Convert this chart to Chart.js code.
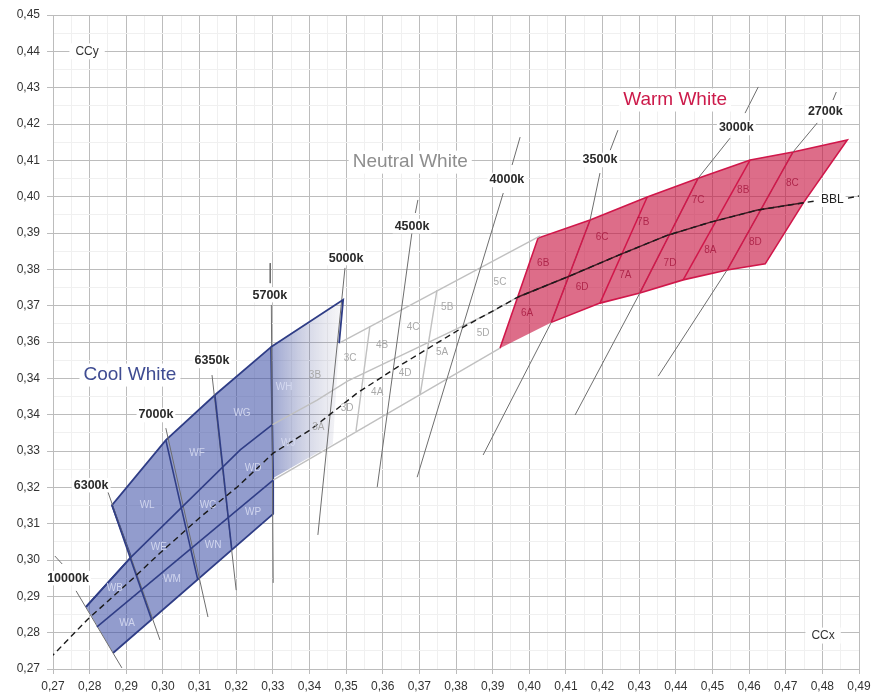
<!DOCTYPE html>
<html><head><meta charset="utf-8">
<script src="https://cdn.jsdelivr.net/npm/chart.js@4.4.1/dist/chart.umd.min.js"></script>
<style>html,body{margin:0;padding:0;background:#fff;} canvas{display:block;}</style>
</head><body>
<canvas id="c" width="877" height="698"></canvas>
<script>
// ---------- axis labels ----------
const xTickLabels = ['0,27','0,28','0,29','0,30','0,31','0,32','0,33','0,34','0,35','0,36','0,37','0,38','0,39','0,40','0,41','0,42','0,43','0,44','0,45','0,46','0,47','0,48','0,49'];
const yTickLabels = ['0,27','0,28','0,29','0,30','0,31','0,32','0,33','0,34','0,34','0,36','0,37','0,38','0,39','0,40','0,41','0,42','0,43','0,44','0,45'];

// ---------- black body locus (x, y chromaticity) ----------
const bblPoints = [[0.2692,0.2730],[0.2793,0.2835],[0.2919,0.2950],[0.2992,0.3019],[0.3102,0.3118],[0.3203,0.3201],[0.3301,0.3294],[0.3402,0.3358],[0.3531,0.3460],[0.3640,0.3531],[0.3820,0.3641],[0.3970,0.3724],[0.4104,0.3779],[0.4244,0.3839],[0.4378,0.3894],[0.4495,0.3930],[0.4623,0.3963],[0.4748,0.3983],[0.4781,0.3988],null,[0.4870,0.3996],[0.4900,0.4002]];

// ---------- Cool White bins ----------
const coolPolygon = [[0.2790,0.2871],[0.2913,0.3008],[0.2861,0.3151],[0.3008,0.3330],[0.3142,0.3454],[0.3295,0.3586],[0.3301,0.3226],[0.3301,0.3127],[0.2864,0.2744]];
const coolFade = [[0.3295,0.3586],[0.3492,0.3716],[0.3481,0.3597],[0.3464,0.3319],[0.3301,0.3226]];
const coolTopExt = [[0.3295,0.3586],[0.3492,0.3716],[0.3481,0.3597]];
const coolMid = [[0.2790,0.2871],[0.2913,0.3008],[0.3211,0.3303],[0.3298,0.3372]];
const coolLow = [[0.2820,0.2816],[0.3301,0.3220]];
const coolDiv6300 = [[0.2861,0.3151],[0.2969,0.2836]];
const coolDiv7000 = [[0.3008,0.3330],[0.3095,0.2946]];
const coolDiv6350 = [[0.3142,0.3454],[0.3188,0.3028]];

// ---------- Neutral White bins ----------
const neutralTop = [[0.3481,0.3597],[0.4030,0.3892]];
const neutralMid = [[0.3298,0.3372],[0.3421,0.3440],[0.3505,0.3493],[0.3675,0.3575],[0.3893,0.3680],[0.3969,0.3724]];
const neutralBottom = [[0.3301,0.3220],[0.3920,0.3583]];
const neutralDiv1 = [[0.3565,0.3644],[0.3527,0.3355]];
const neutralDiv2 = [[0.3748,0.3743],[0.3702,0.3454]];

// ---------- Warm White bins ----------
const warmPolygon = [[0.3920,0.3583],[0.4024,0.3886],[0.4166,0.3936],[0.4322,0.3999],[0.4461,0.4051],[0.4603,0.4101],[0.4720,0.4123],[0.4868,0.4156],[0.4748,0.3983],[0.4644,0.3815],[0.4540,0.3798],[0.4420,0.3771],[0.4302,0.3735],[0.4193,0.3707],[0.4060,0.3654]];
const warmMid = [[0.3969,0.3724],[0.4104,0.3779],[0.4244,0.3839],[0.4378,0.3894],[0.4495,0.3930],[0.4623,0.3963],[0.4748,0.3983]];
const warmDiv1 = [[0.4166,0.3936],[0.4060,0.3654]];
const warmDiv2 = [[0.4322,0.3999],[0.4193,0.3707]];
const warmDiv3 = [[0.4461,0.4051],[0.4302,0.3735]];
const warmDiv4 = [[0.4603,0.4101],[0.4420,0.3771]];
const warmDiv5 = [[0.4720,0.4123],[0.4540,0.3798]];

// ---------- isotherm (CCT) lines ----------
const iso10000 = [[0.2705,0.3011],[0.2725,0.2989],null,[0.2763,0.2915],[0.2888,0.2703]];
const iso6300 = [[0.2850,0.3187],[0.2992,0.2780]];
const iso7000 = [[0.3008,0.3363],[0.3123,0.2843]];
const iso6350 = [[0.3134,0.3509],[0.3200,0.2917]];
const iso5700 = [[0.3293,0.3817],[0.3293,0.3762],null,[0.3296,0.3702],[0.3301,0.2937]];
const iso5000 = [[0.3497,0.3804],[0.3423,0.3069]];
const iso4500 = [[0.3696,0.3991],[0.3689,0.3955],null,[0.3680,0.3903],[0.3585,0.3201]];
const iso4000 = [[0.3975,0.4164],[0.3953,0.4087],null,[0.3929,0.4010],[0.3694,0.3228]];
const iso3500 = [[0.4242,0.4183],[0.4221,0.4128],null,[0.4193,0.4065],[0.4166,0.3936],[0.4060,0.3654],[0.3874,0.3289]];
const iso3000 = [[0.4625,0.4302],[0.4589,0.4230],null,[0.4548,0.4161],[0.4461,0.4051],[0.4302,0.3735],[0.4125,0.3399]];
const iso2700 = [[0.4838,0.4288],[0.4829,0.4266],null,[0.4786,0.4203],[0.4720,0.4123],[0.4540,0.3798],[0.4352,0.3506]];

// ---------- text ----------
const isoLabelNames = ['10000k','6300k','7000k','6350k','5700k','5000k','4500k','4000k','3500k','3000k','2700k'];
const isoLabelX = [0.2741,0.2804,0.2981,0.3134,0.3292,0.3500,0.3680,0.3939,0.4193,0.4565,0.4808];
const isoLabelY = [0.2950,0.3206,0.3399,0.3548,0.3729,0.3831,0.3919,0.4046,0.4101,0.4189,0.4233];

const coolCellNames = ['WL','WF','WG','WH','WE','WC','WD','WJ','WB','WM','WN','WP','WA'];
const coolCellX = [0.2957,0.3093,0.3216,0.3331,0.2989,0.3123,0.3246,0.3342,0.2869,0.3025,0.3137,0.3246,0.2902];
const coolCellY = [0.3151,0.3295,0.3405,0.3476,0.3036,0.3151,0.3253,0.3322,0.2923,0.2948,0.3041,0.3132,0.2827];

const neutralCellNames = ['3B','3A','3C','3D','4B','4A','4C','4D','5B','5A','5C','5D'];
const neutralCellX = [0.3415,0.3424,0.3511,0.3503,0.3598,0.3585,0.3683,0.3661,0.3776,0.3762,0.3920,0.3874];
const neutralCellY = [0.3509,0.3366,0.3556,0.3418,0.3592,0.3462,0.3641,0.3515,0.3696,0.3572,0.3765,0.3625];

const warmCellNames = ['6B','6C','7B','7C','8B','8C','6A','6D','7A','7D','8A','8D'];
const warmCellX = [0.4038,0.4199,0.4311,0.4461,0.4584,0.4718,0.3994,0.4144,0.4262,0.4384,0.4494,0.4617];
const warmCellY = [0.3817,0.3889,0.3930,0.3991,0.4018,0.4038,0.3680,0.3751,0.3784,0.3817,0.3853,0.3875];

const regionNames = ['Cool White','Neutral White','Warm White'];
const regionX = [0.2910,0.3675,0.4398];
const regionY = [0.3509,0.4095,0.4266];

const axisTitleNames = ['CCy','CCx'];
const axisTitleX = [0.2793,0.4802];
const axisTitleY = [0.4400,0.2792];

const bblLabel = 'BBL';
const bblLabelX = 0.4827, bblLabelY = 0.3991;

// ---------- styling ----------
const NAVY = '#2f3d86', COOL_FILL = 'rgba(60,78,165,0.56)';
const RED = '#d0174a', WARM_FILL = 'rgba(200,20,65,0.62)';
const NEUTRAL = '#c0c0c0', ISO = '#6e6e6e';
const FONT = '"Liberation Sans", Arial, Helvetica, sans-serif';

const toXY = arr => arr.map(p => p ? {x:p[0], y:p[1]} : {x:null, y:null});
function lineDs(points, color, width, order, extra) {
  return Object.assign({type:'line', data: toXY(points), borderColor: color, backgroundColor: 'transparent', borderWidth: width,
    pointRadius: 0, pointHoverRadius: 0, fill: false, tension: 0, order, spanGaps: false}, extra || {});
}

const fadeGradient = (ctx) => {
  const chart = ctx.chart; const area = chart.chartArea;
  if (!area) return COOL_FILL;
  const x0 = chart.scales.x.getPixelForValue(coolFade[0][0]);
  const x1 = chart.scales.x.getPixelForValue(coolFade[1][0]);
  const g = chart.ctx.createLinearGradient(x0, 0, x1 + 2, 0);
  g.addColorStop(0, 'rgba(60,78,165,0.50)');
  g.addColorStop(0.55, 'rgba(90,100,160,0.22)');
  g.addColorStop(1, 'rgba(120,120,150,0.04)');
  return g;
};

const datasets = [
  lineDs(coolPolygon, NAVY, 1.8, 20, {fill: 'shape', backgroundColor: COOL_FILL}),
  lineDs(coolFade, 'transparent', 0, 21, {fill: 'shape', backgroundColor: fadeGradient}),
  lineDs(warmPolygon, RED, 1.6, 20, {fill: 'shape', backgroundColor: WARM_FILL}),
  lineDs(neutralTop, NEUTRAL, 1.4, 12),
  lineDs(neutralMid, NEUTRAL, 1.4, 12),
  lineDs(neutralBottom, NEUTRAL, 1.4, 12),
  lineDs(neutralDiv1, NEUTRAL, 1.4, 12),
  lineDs(neutralDiv2, NEUTRAL, 1.4, 12),
  lineDs(iso10000, ISO, 1, 10),
  lineDs(iso6300, ISO, 1, 10),
  lineDs(iso7000, ISO, 1, 10),
  lineDs(iso6350, ISO, 1, 10),
  lineDs(iso5700, ISO, 1, 10),
  lineDs(iso5000, ISO, 1, 10),
  lineDs(iso4500, ISO, 1, 10),
  lineDs(iso4000, ISO, 1, 10),
  lineDs(iso3500, ISO, 1, 10),
  lineDs(iso3000, ISO, 1, 10),
  lineDs(iso2700, ISO, 1, 10),
  lineDs(coolTopExt, NAVY, 1.8, 6),
  lineDs(coolMid, NAVY, 1.6, 6),
  lineDs(coolLow, NAVY, 1.6, 6),
  lineDs(coolDiv6300, NAVY, 1.6, 6),
  lineDs(coolDiv7000, NAVY, 1.6, 6),
  lineDs(coolDiv6350, NAVY, 1.6, 6),
  lineDs(warmDiv1, RED, 1.5, 6),
  lineDs(warmDiv2, RED, 1.5, 6),
  lineDs(warmDiv3, RED, 1.5, 6),
  lineDs(warmDiv4, RED, 1.5, 6),
  lineDs(warmDiv5, RED, 1.5, 6),
  lineDs(warmMid, '#4a1a26', 1.5, 5),
  lineDs(bblPoints, '#1a1a1a', 1.4, 4, {borderDash: [6, 4]})
];

const textPlugin = {
  id: 'chartTexts',
  afterDatasetsDraw(chart) {
    const ctx = chart.ctx, xs = chart.scales.x, ys = chart.scales.y;
    ctx.save();
    ctx.textAlign = 'center'; ctx.textBaseline = 'middle';
    const draw = (txt, vx, vy, size, weight, color, bg, padX, padY) => {
      const px = xs.getPixelForValue(vx), py = ys.getPixelForValue(vy);
      ctx.font = weight + ' ' + size + 'px ' + FONT;
      if (bg) {
        const w = ctx.measureText(txt).width;
        ctx.fillStyle = bg;
        ctx.fillRect(px - w / 2 - padX, py - size / 2 - padY, w + 2 * padX, size + 2 * padY);
      }
      ctx.fillStyle = color;
      ctx.fillText(txt, px, py);
    };
    coolCellNames.forEach((t, i) => draw(t, coolCellX[i], coolCellY[i], 10, 'normal', 'rgba(215,220,242,0.9)'));
    neutralCellNames.forEach((t, i) => draw(t, neutralCellX[i], neutralCellY[i], 10, 'normal', '#a9a9a9'));
    warmCellNames.forEach((t, i) => draw(t, warmCellX[i], warmCellY[i], 10, 'normal', 'rgba(160,15,55,0.75)'));
    isoLabelNames.forEach((t, i) => draw(t, isoLabelX[i], isoLabelY[i], 12.5, 'bold', '#2a2a2a', '#ffffff', 2, 1));
    const regionColors = ['#3f4c92', '#8e8e8e', '#cc1a4a'];
    regionNames.forEach((t, i) => draw(t, regionX[i], regionY[i], 19, 'normal', regionColors[i], '#ffffff', 4, 2));
    axisTitleNames.forEach((t, i) => draw(t, axisTitleX[i], axisTitleY[i], 12, 'normal', '#333333', '#ffffff', 6, 2));
    draw(bblLabel, bblLabelX, bblLabelY, 12, 'normal', '#222222', '#ffffff', 2, 1);
    ctx.restore();
  }
};

const MAJOR = '#bcbcbc', MINOR = '#f0f0f0';
const halfTicks = (min, count) => Array.from({length: count}, (_, i) => ({value: +(min + i * 0.005).toFixed(3)}));

new Chart(document.getElementById('c'), {
  type: 'line',
  data: {datasets},
  options: {
    responsive: false,
    animation: false,
    events: [],
    layout: {padding: {top: 15, right: 18, left: 0, bottom: 0}},
    plugins: {legend: {display: false}, tooltip: {enabled: false}},
    scales: {
      x: {
        type: 'linear', min: 0.27, max: 0.49,
        afterBuildTicks: s => { s.ticks = halfTicks(0.27, xTickLabels.length * 2 - 1); },
        afterFit: s => { s.height = 29; },
        ticks: {autoSkip: false, maxRotation: 0, padding: 5, color: '#333',
          font: {family: FONT, size: 12},
          callback: (v, i) => i % 2 === 0 ? xTickLabels[i / 2] : ''},
        grid: {color: c => c.index % 2 === 0 ? MAJOR : MINOR, tickLength: 5,
          tickColor: c => c.index % 2 === 0 ? MAJOR : 'rgba(0,0,0,0)', lineWidth: 1},
        border: {display: true, color: MAJOR}
      },
      y: {
        type: 'linear', min: 0.27, max: 0.45,
        afterBuildTicks: s => { s.ticks = halfTicks(0.27, yTickLabels.length * 2 - 1); },
        afterFit: s => { s.width = 53; },
        ticks: {autoSkip: false, padding: 7, color: '#333',
          font: {family: FONT, size: 12},
          callback: (v, i) => i % 2 === 0 ? yTickLabels[i / 2] : ''},
        grid: {color: c => c.index % 2 === 0 ? MAJOR : MINOR, tickLength: 6,
          tickColor: c => c.index % 2 === 0 ? MAJOR : 'rgba(0,0,0,0)', lineWidth: 1},
        border: {display: true, color: MAJOR}
      }
    }
  },
  plugins: [textPlugin]
});
</script>
</body></html>
